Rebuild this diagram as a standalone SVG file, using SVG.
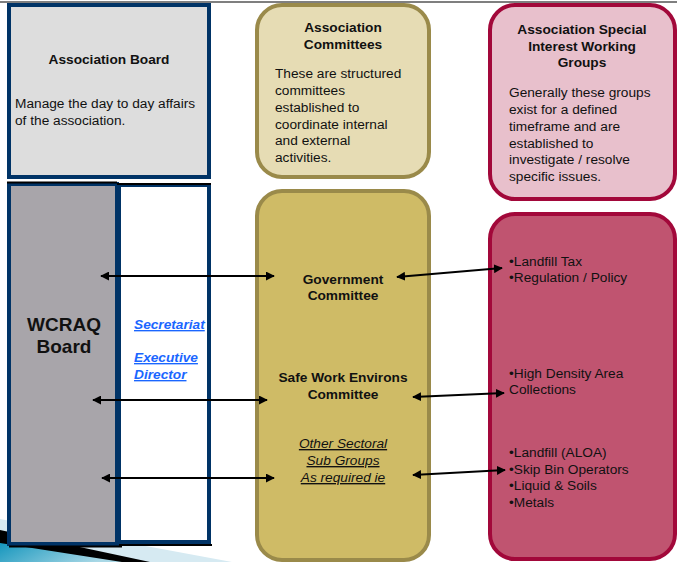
<svg xmlns="http://www.w3.org/2000/svg" width="677" height="562" viewBox="0 0 677 562">
<defs>
<linearGradient id="teal" x1="0" y1="0" x2="1" y2="0.3">
<stop offset="0" stop-color="#1596bd"/>
<stop offset="1" stop-color="#a9d8e6"/>
</linearGradient>
<marker id="ah" viewBox="0 0 10 10" refX="9" refY="5" markerWidth="9" markerHeight="9" markerUnits="userSpaceOnUse" orient="auto-start-reverse">
<path d="M0,0 L10,5 L0,10 z" fill="#000"/>
</marker>
</defs>
<style>
text{font-family:"Liberation Sans",Arial,sans-serif;font-size:13.7px;fill:#111}
.b{font-weight:bold}
.c{text-anchor:middle}
.navy{stroke:#003366;stroke-width:4}
.gold{stroke:#9a8a4a;stroke-width:4}
.red{stroke:#a2083a;stroke-width:4}
.link{fill:#1a66ff;font-weight:bold;font-style:italic;text-decoration:underline}
.it{font-style:italic;text-decoration:underline}
.conn line{stroke:#000;stroke-width:2;marker-start:url(#ah);marker-end:url(#ah)}
</style>
<rect width="677" height="562" fill="#fff"/>
<line x1="0" y1="2" x2="677" y2="2" stroke="#555" stroke-width="1.5"/>
<g id="swoosh">
<polygon points="0,519 232,562 0,562" fill="#d6eaf2"/>
<polygon points="0,530 150,562 0,562" fill="#000"/>
<polygon points="0,543 122,562 0,562" fill="url(#teal)"/>
</g>
<g id="association-board">
<rect x="9" y="5" width="200" height="172" fill="#dddddd" class="navy"/>
<text x="109" y="64" class="b c">Association Board</text>
<text x="15" y="108">Manage the day to day affairs</text>
<text x="15" y="125">of the association.</text>
</g>
<g id="wcraq-board">
<rect x="9" y="184" width="108" height="360" fill="#a8a5aa" class="navy"/>
<line x1="7" y1="182.5" x2="117" y2="182.5" stroke="#000" stroke-width="2"/>
<line x1="9" y1="546.5" x2="122" y2="546.5" stroke="#000" stroke-width="2"/>
<text x="64" y="331" class="b c" style="font-size:19px">WCRAQ</text>
<text x="64" y="353" class="b c" style="font-size:19px">Board</text>
</g>
<g id="secretariat">
<rect x="119" y="185" width="90" height="357" fill="#fff" class="navy"/>
<line x1="117" y1="184" x2="211" y2="184" stroke="#000" stroke-width="2"/>
<line x1="119" y1="545" x2="212" y2="545" stroke="#000" stroke-width="2"/>
<text x="134" y="329" class="link">Secretariat</text>
<text x="134" y="362" class="link">Executive</text>
<text x="134" y="379" class="link">Director</text>
</g>
<g id="association-committees">
<rect x="257" y="5" width="172" height="172" rx="25" fill="#e6dcb4" class="gold"/>
<text x="343" y="32" class="b c">Association</text>
<text x="343" y="49" class="b c">Committees</text>
<text x="275" y="78">These are structured</text>
<text x="275" y="95">committees</text>
<text x="275" y="112">established to</text>
<text x="275" y="129">coordinate internal</text>
<text x="275" y="145">and external</text>
<text x="275" y="162">activities.</text>
</g>
<g id="committees">
<rect x="257" y="191" width="172" height="369" rx="25" fill="#cfbb66" class="gold"/>
<text x="343" y="284" class="b c">Government</text>
<text x="343" y="300" class="b c">Committee</text>
<text x="343" y="382" class="b c">Safe Work Environs</text>
<text x="343" y="399" class="b c">Committee</text>
<text x="343" y="448" class="it c">Other Sectoral</text>
<text x="343" y="465" class="it c">Sub Groups</text>
<text x="343" y="482" class="it c">As required ie</text>
</g>
<g id="special-interest-groups">
<rect x="490" y="5" width="185" height="194" rx="25" fill="#e8c0cc" class="red"/>
<text x="582" y="34" class="b c">Association Special</text>
<text x="582" y="51" class="b c">Interest Working</text>
<text x="582" y="67" class="b c">Groups</text>
<text x="509" y="97">Generally these groups</text>
<text x="509" y="114">exist for a defined</text>
<text x="509" y="131">timeframe and are</text>
<text x="509" y="148">established to</text>
<text x="509" y="164">investigate / resolve</text>
<text x="509" y="181">specific issues.</text>
</g>
<g id="working-groups">
<rect x="490" y="214" width="185" height="345" rx="25" fill="#c05470" class="red"/>
<text x="509" y="266">•Landfill Tax</text>
<text x="509" y="282">•Regulation / Policy</text>
<text x="509" y="378">•High Density Area</text>
<text x="509" y="394">Collections</text>
<text x="509" y="457">•Landfill (ALOA)</text>
<text x="509" y="474">•Skip Bin Operators</text>
<text x="509" y="490">•Liquid &amp; Soils</text>
<text x="509" y="507">•Metals</text>
</g>
<g id="connectors" class="conn">
<line x1="101" y1="276" x2="274" y2="276"/>
<line x1="93" y1="400" x2="267" y2="400"/>
<line x1="102" y1="478" x2="274" y2="478"/>
<line x1="397" y1="277" x2="502" y2="268"/>
<line x1="413" y1="397" x2="504" y2="393"/>
<line x1="413" y1="475" x2="505" y2="470"/>
</g>
</svg>
